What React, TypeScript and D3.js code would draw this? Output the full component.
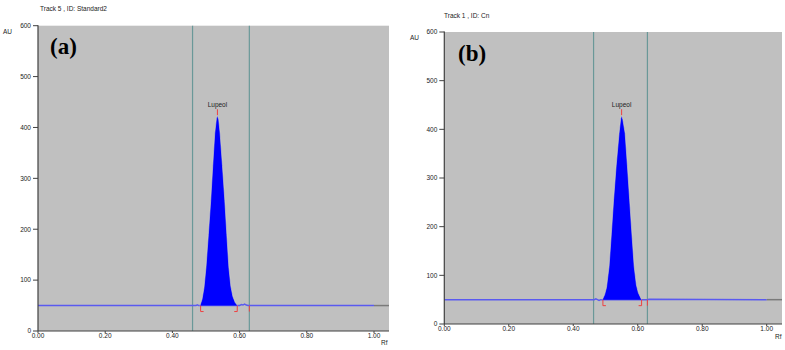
import React from "react";
import * as d3 from "d3";

// ---- Data ----
const yTicks = [0, 100, 200, 300, 400, 500, 600];
const xTicks = [0, 0.2, 0.4, 0.6, 0.8, 1.0];

const titleA = "Track  5 , ID: Standard2";
const titleB = "Track  1 , ID: Cn";
const peakLabel = "Lupeol";

const peakA_rf = [0.482, 0.488, 0.494, 0.5, 0.507, 0.514, 0.52, 0.526, 0.531, 0.534, 0.538, 0.542, 0.549, 0.556, 0.562, 0.568, 0.574, 0.58, 0.587, 0.594];
const peakA_au = [50, 62, 85, 126, 190, 257, 325, 389, 418, 424, 415, 389, 325, 257, 190, 126, 88, 68, 56, 50];

const peakB_rf = [0.49, 0.497, 0.503, 0.511, 0.518, 0.525, 0.533, 0.542, 0.547, 0.55, 0.554, 0.561, 0.568, 0.575, 0.582, 0.589, 0.596, 0.602, 0.612];
const peakB_au = [50, 60, 75, 118, 185, 255, 325, 392, 422, 429, 420, 392, 325, 255, 185, 118, 80, 64, 50];

const baseA_rf = [0, 0.47, 0.474, 0.478, 0.6, 0.605, 0.61, 0.615, 0.62, 0.625, 1.0];
const baseA_au = [50, 50, 51.5, 50, 50, 52, 51, 53, 51, 50, 50];
const baseB_rf = [0, 0.465, 0.47, 0.475, 0.48, 0.485, 0.63, 0.635, 1.0];
const baseB_au = [50, 50, 51.5, 50, 48.5, 50, 50, 51, 50];

const windowA = [0.46, 0.629];
const windowB = [0.463, 0.63];
const marksA = [0.484, 0.593, 0.629];
const marksB = [0.492, 0.612, 0.63];
const peakTopA = 0.534;
const peakTopB = 0.55;
const peakMaxA = 424;
const peakMaxB = 429;

type PanelProps = {
  x0: number; x1: number; xEnd: number; y0: number; y600: number;
  title: string; titleX: number; titleY: number;
  auX: number; auY: number; rfX: number; rfY: number;
  tag: string; tagX: number; tagY: number;
  peakRf: number[]; peakAu: number[]; baseRf: number[]; baseAu: number[];
  win: number[]; marks: number[]; topRf: number; topAu: number;
};

const font = "'Liberation Sans', Arial, sans-serif";

function Panel(p: PanelProps) {
  const x = d3.scaleLinear().domain([0, 1]).range([p.x0, p.x1]);
  const y = d3.scaleLinear().domain([0, 600]).range([p.y0, p.y600]);
  const baseY = y(50);
  const area = d3.area<number>()
    .x((_, i) => x(p.peakRf[i]))
    .y0(baseY)
    .y1((d) => y(d));
  const line = d3.line<number>()
    .x((_, i) => x(p.baseRf[i]))
    .y((d) => y(d));
  const peakLine = d3.line<number>()
    .x((_, i) => x(p.peakRf[i]))
    .y((d) => y(d));
  return (
    <g>
      <text x={p.titleX} y={p.titleY} fontFamily={font} fontSize={6.5} fill="#222">{p.title}</text>
      <text x={p.auX} y={p.auY} fontFamily={font} fontSize={6.5} fill="#222">AU</text>
      <rect x={p.x0} y={p.y600} width={p.xEnd - p.x0} height={p.y0 - p.y600} fill="#c0c0c0" />
      {p.win.map((w, i) => (
        <line key={i} x1={x(w)} x2={x(w)} y1={p.y600} y2={p.y0} stroke="#6a9898" strokeWidth={1.2} />
      ))}
      <path d={line(p.baseAu) || ""} fill="none" stroke="#5a5af0" strokeWidth={1.5} />
      <line x1={x(1)} x2={p.xEnd} y1={baseY} y2={baseY} stroke="#7a7a7a" strokeWidth={1.5} />
      <path d={area(p.peakAu) || ""} fill="#0000ff" />
      <path d={peakLine(p.peakAu) || ""} fill="none" stroke="#d8d8c8" strokeWidth={0.6} />
      {/* baseline markers */}
      <path d={`M${x(p.marks[0])},${baseY} v6 h3`} fill="none" stroke="#ee4040" strokeWidth={1} />
      <path d={`M${x(p.marks[1])},${baseY} v6 h-3`} fill="none" stroke="#ee4040" strokeWidth={1} />
      <path d={`M${x(p.marks[2])},${baseY} v6`} fill="none" stroke="#ee4040" strokeWidth={1} />
      <line x1={x(p.topRf)} x2={x(p.topRf)} y1={y(p.topAu) - 6} y2={y(p.topAu)} stroke="#ee4040" strokeWidth={1} />
      <text x={x(p.topRf)} y={y(p.topAu) - 8} textAnchor="middle" fontFamily={font} fontSize={6.5} fill="#222">{peakLabel}</text>
      {/* axes */}
      <line x1={p.x0} x2={p.x0} y1={p.y600 - 0.5} y2={p.y0} stroke="#404040" strokeWidth={1.2} />
      <line x1={p.x0} x2={p.xEnd} y1={p.y0} y2={p.y0} stroke="#404040" strokeWidth={1.2} />
      {yTicks.map((t) => (
        <g key={t}>
          <line x1={p.x0 - 5} x2={p.x0} y1={y(t)} y2={y(t)} stroke="#404040" strokeWidth={1} />
          <text x={p.x0 - 7} y={y(t) + 2.3} textAnchor="end" fontFamily={font} fontSize={6.5} fill="#222">{t}</text>
        </g>
      ))}
      {xTicks.map((t) => (
        <g key={t}>
          <line x1={x(t)} x2={x(t)} y1={p.y0} y2={p.y0 + 2} stroke="#404040" strokeWidth={1} />
          <text x={x(t)} y={p.y0 + 7} textAnchor="middle" fontFamily={font} fontSize={6.5} fill="#222">{t.toFixed(2)}</text>
        </g>
      ))}
      <text x={p.rfX} y={p.rfY} fontFamily={font} fontSize={6.5} fill="#222">Rf</text>
      <text x={p.tagX} y={p.tagY} fontFamily="'Liberation Serif', 'Times New Roman', serif" fontWeight="bold" fontSize={23} fill="#000">{p.tag}</text>
    </g>
  );
}

export default function App() {
  return (
    <svg width={785} height={350} style={{ position: "absolute", left: 0, top: 0, background: "#fff" }}>
      <Panel x0={38} x1={374} xEnd={389} y0={331} y600={25.7}
        title={titleA} titleX={40} titleY={11} auX={3} auY={34} rfX={381} rfY={345}
        tag="(a)" tagX={50} tagY={54}
        peakRf={peakA_rf} peakAu={peakA_au} baseRf={baseA_rf} baseAu={baseA_au}
        win={windowA} marks={marksA} topRf={peakTopA} topAu={peakMaxA} />
      <Panel x0={444.3} x1={766.7} xEnd={782} y0={324} y600={32}
        title={titleB} titleX={444} titleY={17.5} auX={410} auY={40} rfX={775} rfY={339}
        tag="(b)" tagX={458} tagY={61}
        peakRf={peakB_rf} peakAu={peakB_au} baseRf={baseB_rf} baseAu={baseB_au}
        win={windowB} marks={marksB} topRf={peakTopB} topAu={peakMaxB} />
    </svg>
  );
}
